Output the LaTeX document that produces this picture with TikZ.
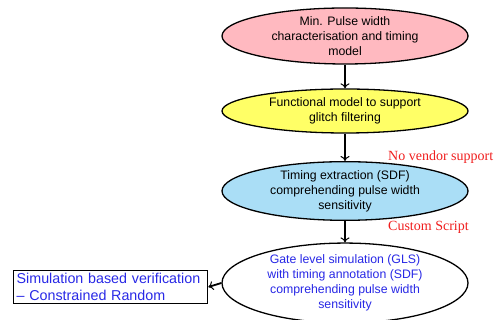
\documentclass[tikz,border=0pt]{standalone}
\usepackage{fontspec}
\setmainfont{Liberation Sans}
\newfontfamily\serifred{Liberation Serif}
\usetikzlibrary{shapes.geometric,arrows.meta}
\definecolor{pinkfill}{RGB}{255,185,192}
\definecolor{yellowfill}{RGB}{255,255,102}
\definecolor{bluefill}{RGB}{170,222,246}
\definecolor{bluetext}{RGB}{40,40,230}
\definecolor{redtext}{RGB}{240,30,30}
\tikzset{
  ell/.style={ellipse, draw=black, line width=1.3pt, inner sep=0pt, align=center,
    font=\fontsize{12.3}{15}\selectfont},
  conn/.style={-{To[length=5pt,width=9pt,line width=1pt]}, line width=1.8pt},
  note/.style={font=\serifred\fontsize{14}{16}\selectfont, text=redtext, anchor=west, inner sep=0pt},
}
\begin{document}
\begin{tikzpicture}[x=1pt,y=1pt]
\useasboundingbox (0,0) rectangle (502,320);
\node[ell, fill=pinkfill, minimum width=246pt, minimum height=56pt] (a) at (345,284) {Min. Pulse width\\characterisation and timing\\model};
\node[ell, fill=yellowfill, minimum width=246pt, minimum height=44pt] (b) at (345,209) {Functional model to support\\glitch filtering};
\node[ell, fill=bluefill, minimum width=246pt, minimum height=57pt] (c) at (345,129) {Timing extraction (SDF)\\comprehending pulse width\\sensitivity};
\node[ell, fill=white, text=bluetext, minimum width=246pt, minimum height=70pt] (d) at (345,37) {Gate level simulation (GLS)\\with timing annotation (SDF)\\comprehending pulse width\\sensitivity};
\node[draw=black, line width=1.3pt, text=bluetext, align=left, inner sep=3pt, anchor=west,
  text width=188pt, minimum height=33pt, font=\fontsize{14.3}{17}\selectfont] (e) at (13,33) {Simulation based verification\\-- Constrained Random};
\node[note] (n1) at (388,163) {No vendor support};
\node[note] (n2) at (388,93) {Custom Script};
\draw[conn] (a) -- (b);
\draw[conn] (b) -- (c);
\draw[conn] (c) -- (d);
\draw[conn] (d.west) -- (e.east);
\end{tikzpicture}
\end{document}
